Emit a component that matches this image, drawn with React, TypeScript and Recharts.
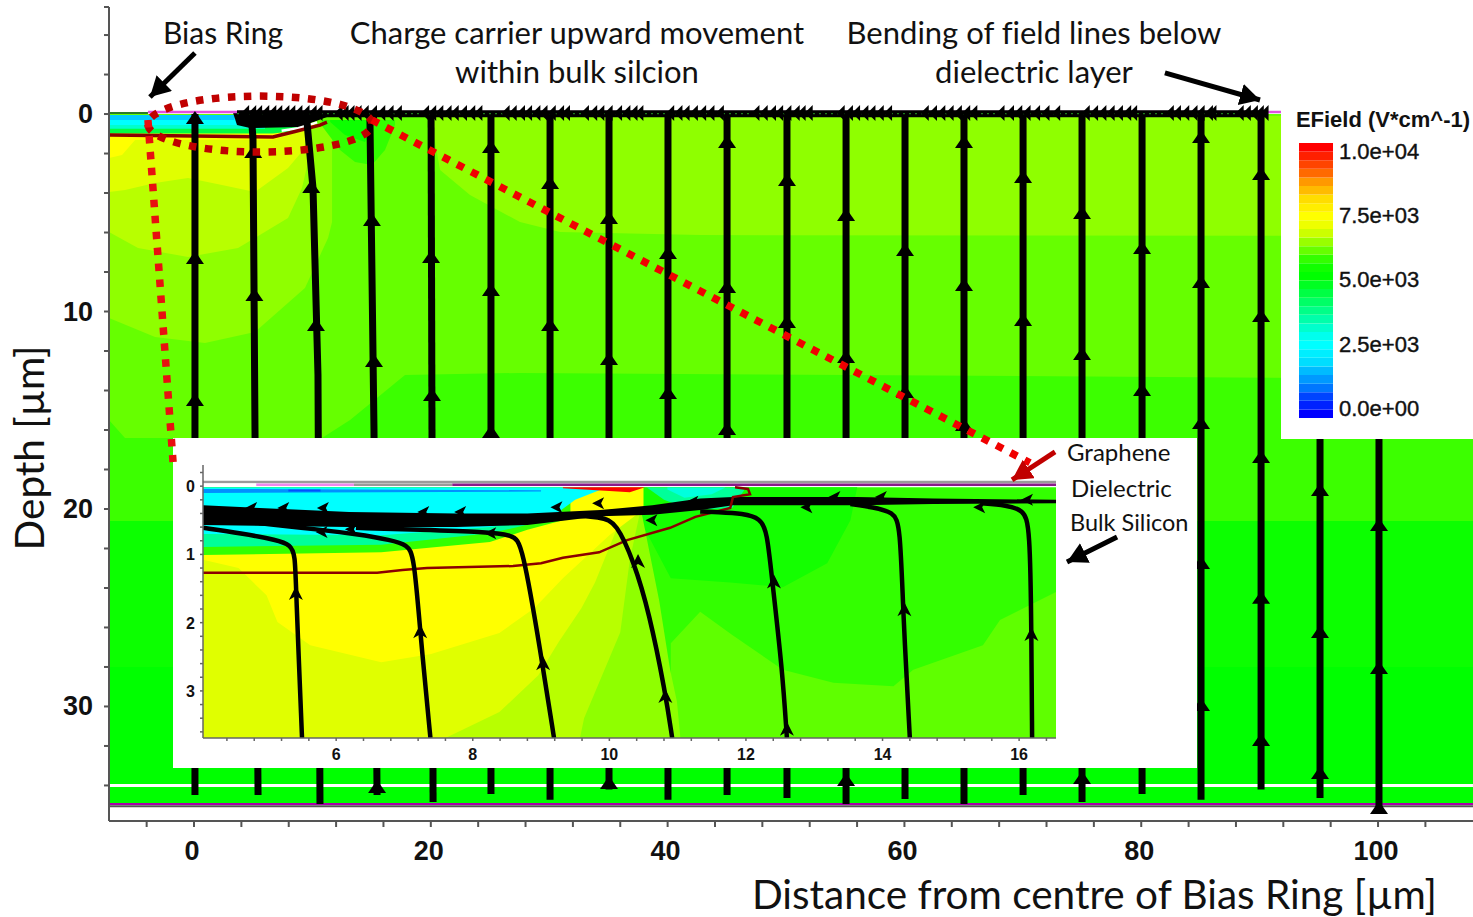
import {
  Area,
  ComposedChart,
  Label,
  Line,
  Scatter,
  XAxis,
  YAxis,
} from "recharts";

const SANS = "'Liberation Sans', Arial, sans-serif";
const LATO = "Lato, 'Open Sans', sans-serif";

// ---- main plot: distance (um) / depth (um) ----
const X_DOMAIN = [-7.18, 108.02];
const Y_DOMAIN = [-5.42, 35.8];
const X_TICKS = [-4, 0, 4, 8, 12, 16, 20, 24, 28, 32, 36, 40, 44, 48, 52, 56, 60, 64, 68, 72, 76, 80, 84, 88, 92, 96, 100, 104];
const Y_TICKS = [-5.42, -4, -2, 0, 2, 4, 6, 8, 10, 12, 14, 16, 18, 20, 22, 24, 26, 28, 30, 32, 34];

type Row = [number, number, number];
// contour regions, back to front: [colour, [x, top, bottom]...]
const FIELD_BANDS: [string, Row[]][] = [
  ["#00ff00", [[-7.18, 0, 34.95], [108.02, 0, 34.95]]],
  ["#0cff00", [[-7.18, 0, 28], [108.02, 0, 28]]],
  ["#3cff00", [[-7.18, 0, 20.61], [108.02, 0, 20.61]]],
  ["#66ff00", [[-7.18, 0, 15.49], [-5.83, 0, 16.41], [10.81, 0, 16.41], [13.18, 0, 15.49], [17.82, 0, 13.22], [27.53, 0, 13.11], [108.02, 0, 13.42]]],
  ["#8fff00", [[-7.18, 0.5, 10.33], [-3.29, 0.5, 11.29], [0.93, 0.5, 11.59], [5.15, 0.5, 11.04], [9.37, 0.5, 8.81], [11.32, 0.5, 6.28], [11.66, 0.5, 5.47]]],
  ["#8fff00", [[20.1, 0.1, 0.56], [20.78, 0.1, 2.84], [23.31, 0.1, 4.1], [27.53, 0.1, 5.47], [30.91, 0.1, 5.97], [42.74, 0.1, 6.13], [108.02, 0.1, 6.18]]],
  ["#b8ff00", [[-7.18, 0.5, 5.97], [-4.73, 0.5, 6.78], [-0.51, 0.5, 7.24], [3.72, 0.5, 6.78], [7.94, 0.5, 5.27], [9.12, 0.5, 3.75], [9.63, 0.5, 2.43]]],
  ["#e0ff00", [[-7.18, 0.5, 3.95], [-5.83, 0.5, 3.85], [-3.29, 0.5, 3.49], [-0.51, 0.5, 3.24], [2.36, 0.5, 3.59], [5.15, 0.5, 3.95], [7.94, 0.5, 2.73], [9.37, 0.5, 1.72]]],
  ["#ffff00", [[-7.18, 0.5, 2.23], [-6.08, 0.5, 2.08], [-4.98, 0.5, 1.32], [6.67, 0.5, 1.3], [8.36, 0.5, 1.0], [10.2, 0.5, 0.6]]],
  ["#33ff00", [[10.81, 0.3, 0.6], [12.33, 0.3, 1.82], [13.6, 0.3, 2.43], [15.03, 0.3, 2.58], [16.13, 0.3, 1.82], [16.98, 0.3, 0.56]]],
  ["#0cff00", [[11.5, 0.3, 0.4], [12.75, 0.3, 1.06], [14.44, 0.3, 1.42], [15.03, 0.3, 0.8]]],
  ["#00ff44", [[-7.18, 0.05, 0.98], [6.67, 0.05, 0.98], [7.94, 0.05, 0.9], [9.37, 0.05, 0.6]]],
  ["#00ffcc", [[-7.18, 0.05, 0.75], [6.0, 0.05, 0.75]]],
  ["#00ffff", [[-7.18, 0.05, 0.55], [4.31, 0.05, 0.55]]],
  ["#00ccff", [[-7.18, 0.05, 0.3], [3.4, 0.05, 0.3]]],
  ["#000000", [[3.3, -0.05, -0.05], [3.63, -0.05, 0.56], [4.73, -0.05, 0.71], [8.95, -0.05, 0.66], [11.23, -0.05, 0.15]]],
];

const DEPLETION_EDGE = [[-7.1, 1.06], [6.67, 1.16], [8.36, 0.91], [10.64, 0.56], [11.23, 0.41]];
const DEPLETION_HALO = [[7.4, 0.85], [8.8, 0.72], [10.4, 0.42]];

// field lines, bottom to top
const FIELD_LINES = [
  [[0.08, 34.48], [0.08, 0]],
  [[5.41, 34.48], [5.15, 16], [4.98, 1.22], [4.9, 0.6]],
  [[10.64, 34.94], [10.47, 13.22], [10.05, 3.75], [9.54, 0.4]],
  [[15.46, 34.48], [15.2, 16], [14.86, 0.3]],
  [[20.19, 34.84], [20.02, 0]],
  [[25.08, 34.43], [25.08, 0]],
  [[30.07, 34.73], [30.07, 0]],
  [[35.05, 34.2], [35.05, 0]],
  [[40.03, 34.73], [40.03, 0]],
  [[45.02, 34.48], [45.02, 0]],
  [[50.08, 34.63], [50.08, 0]],
  [[55.07, 34.94], [55.07, 0]],
  [[60.05, 34.68], [60.05, 0]],
  [[65.03, 34.94], [65.03, 0]],
  [[70.02, 34.48], [70.02, 0]],
  [[75.0, 34.84], [75.0, 0]],
  [[80.07, 34.43], [80.07, 0]],
  [[85.05, 34.73], [85.05, 0]],
  [[90.12, 34.2], [90.12, 0]],
  [[95.1, 34.63], [95.1, 0]],
  [[100.08, 35.1], [100.08, 0]],
];

const UP_ARROWS = [
  [0.08, 0.2], [0.08, 7.29], [0.08, 14.48],
  [5.0, 1.92], [5.1, 9.16],
  [9.9, 3.7], [10.3, 10.68],
  [15.03, 5.37], [15.2, 12.51], [15.46, 34.08],
  [20.02, 7.24], [20.1, 14.23],
  [25.08, 1.67], [25.08, 8.91], [25.08, 16.1],
  [30.07, 3.49], [30.07, 10.68],
  [35.05, 5.27], [35.05, 12.41], [35.05, 33.87],
  [40.03, 7.04], [40.03, 14.13],
  [45.02, 1.42], [45.02, 8.76], [45.02, 15.95],
  [50.08, 3.34], [50.08, 10.53],
  [55.07, 5.11], [55.07, 12.3], [55.07, 33.72],
  [60.05, 6.89], [60.05, 14.08],
  [65.03, 1.42], [65.03, 8.66], [65.03, 15.75],
  [70.02, 3.19], [70.02, 10.43],
  [75.0, 5.01], [75.0, 12.15], [75.0, 33.62],
  [80.07, 6.78], [80.07, 13.97],
  [85.05, 1.16], [85.05, 8.51], [85.05, 15.65], [85.05, 22.73], [85.05, 29.92],
  [90.12, 3.04], [90.12, 10.23], [90.12, 17.37], [90.12, 24.5], [90.12, 31.7],
  [95.1, 19.04], [95.1, 26.23], [95.1, 33.37],
  [100.08, 20.81], [100.08, 28.05], [100.08, 35.14],
];

// the jagged clusters of small arrows along the surface
const SURFACE_ARROWS_X = [
  4.4, 5.0, 5.5, 6.1, 6.7, 7.2, 7.8, 8.3, 8.9, 9.5, 10.1, 10.6,
  12.3, 12.8, 13.3, 13.9, 14.5, 15.2, 15.9, 16.6, 17.3,
  19.6, 20.2, 20.8, 21.5, 22.1, 22.8, 23.5, 24.1,
  26.4, 27.0, 27.7, 28.3, 29.0, 29.6, 30.3, 31.0, 31.5,
  33.1, 33.8, 34.4, 35.1, 35.9, 36.6, 37.2, 37.7,
  40.3, 41.0, 41.6, 42.3, 43.0, 43.7, 44.5,
  47.5, 48.2, 48.9, 49.5, 50.2, 50.9, 51.4, 52.0,
  54.7, 55.4, 56.0, 56.7, 57.3, 58.0, 58.7,
  61.8, 62.5, 63.2, 63.9, 64.6, 65.3, 65.9,
  68.2, 69.0, 69.7, 70.4, 71.2, 72.0, 72.9,
  75.4, 76.1, 76.8, 77.5, 78.2, 78.9, 79.4,
  82.5, 83.1, 83.8, 84.5, 85.1, 85.8, 86.1,
  88.4, 89.0, 89.6, 90.1, 90.5,
];

const ELLIPSE = [
  [5.57, -0.91], [8.95, -0.82], [12.33, -0.49], [14.44, 0.02], [15.03, 0.51], [14.44, 1.0], [12.33, 1.5], [8.95, 1.83],
  [5.57, 1.92], [2.2, 1.83], [-1.18, 1.5], [-3.29, 1.0], [-3.89, 0.51], [-3.29, 0.02], [-1.18, -0.49], [2.2, -0.82], [5.57, -0.91],
];
const ZOOM_GUIDE_RIGHT = [[15.03, 0.3], [70.6, 17.66]];
const ZOOM_GUIDE_LEFT = [[-3.89, 0.3], [-1.77, 17.62]];
const POINTER_ARROWS = [
  { color: "#000", pts: [[0.08, -3.09], [-3.72, -0.86]] },
  { color: "#000", pts: [[82.0, -2.08], [90.03, -0.71]] },
  { color: "#c00000", pts: [[72.72, 17.11], [69.09, 18.53]] },
  { color: "#000", pts: [[77.96, 21.42], [73.73, 22.68]] },
];

// ---- inset: zoomed view of the surface ----
const INSET_X_DOMAIN = [4.05, 16.54];
const INSET_Y_DOMAIN = [-0.31, 3.69];
const INSET_X_TICKS = [4.4, 4.8, 5.2, 5.6, 6, 6.4, 6.8, 7.2, 7.6, 8, 8.4, 8.8, 9.2, 9.6, 10, 10.4, 10.8, 11.2, 11.6, 12, 12.4, 12.8, 13.2, 13.6, 14, 14.4, 14.8, 15.2, 15.6, 16, 16.4];
const INSET_Y_TICKS = [-0.2, 0, 0.2, 0.4, 0.6, 0.8, 1, 1.2, 1.4, 1.6, 1.8, 2, 2.2, 2.4, 2.6, 2.8, 3, 3.2, 3.4, 3.6];

const INSET_BANDS: [string, Row[]][] = [
  ["#33ff00", [[4.05, 0.015, 3.69], [16.54, 0.015, 3.69]]],
  ["#5fff00", [[10.9, 2.3, 3.69], [11.33, 1.84, 3.69], [11.8, 2.18, 3.69], [12.54, 2.69, 3.69], [13.28, 2.88, 3.69], [14.16, 2.93, 3.69], [14.45, 2.69, 3.69], [15.47, 2.33, 3.69], [15.72, 1.96, 3.69], [16.54, 1.55, 3.69]]],
  ["#14ff00", [[10.45, 0.015, 0.5], [10.9, 0.015, 1.35], [11.77, 0.015, 1.41], [12.54, 0.015, 1.48], [13.19, 0.015, 1.13], [13.53, 0.015, 0.5], [13.63, 0.015, 0.015]]],
  ["#8fff00", [[4.05, 0.35, 3.69], [10.47, 0.38, 3.69], [10.73, 1.68, 3.69], [10.89, 2.69, 3.69], [10.99, 3.16, 3.69], [11.04, 3.69, 3.69]]],
  ["#b8ff00", [[4.05, 0.35, 3.69], [9.57, 0.35, 3.69], [9.63, 0.35, 3.4], [10.16, 0.35, 2.14], [10.3, 0.35, 1.08], [10.45, 0.35, 0.38]]],
  ["#e0ff00", [[4.05, 0.35, 3.69], [7.6, 0.35, 3.69], [8.39, 0.35, 3.31], [8.96, 0.35, 2.77], [9.26, 0.35, 2.28], [9.59, 0.35, 1.79], [9.79, 0.35, 1.41], [10.16, 0.35, 0.5]]],
  ["#ffff00", [[4.05, 0.35, 1.08], [4.57, 0.35, 1.2], [4.98, 0.35, 1.6], [5.14, 0.35, 1.99], [5.62, 0.35, 2.33], [6.66, 0.35, 2.58], [7.39, 0.35, 2.46], [8.39, 0.35, 2.15], [8.9, 0.35, 1.79], [9.32, 0.35, 1.35], [10.0, 0.35, 0.72], [10.45, 0.35, 0.38]]],
  ["#ffff00", [[9.3, 0.02, 0.42], [10.5, 0.02, 0.42]]],
  ["#33ff00", [[4.05, 0.02, 1.01], [6.66, 0.02, 0.97], [8.25, 0.02, 0.82], [8.8, 0.02, 0.64], [9.43, 0.02, 0.47]]],
  ["#00ff99", [[4.05, 0.02, 0.89], [6.66, 0.02, 0.86], [8.25, 0.02, 0.69], [8.96, 0.02, 0.53], [9.3, 0.02, 0.42]]],
  ["#00ffff", [[4.05, 0.02, 0.7], [6.66, 0.02, 0.72], [8.25, 0.02, 0.6], [9.13, 0.02, 0.47], [9.5, 0.02, 0.2], [9.9, 0.02, 0.04]]],
  ["#00ff99", [[10.55, 0.02, 0.02], [10.8, 0.02, 0.2], [11.2, 0.02, 0.35], [11.8, 0.02, 0.32], [12.0, 0.02, 0.02]]],
  ["#00ffdd", [[10.85, 0.02, 0.05], [11.1, 0.02, 0.17], [11.5, 0.02, 0.12], [11.7, 0.02, 0.02]]],
  ["#0090ff", [[4.05, 0.04, 0.1], [9.0, 0.06, 0.08]]],
  ["#0050ff", [[5.3, 0.05, 0.08], [5.77, 0.05, 0.08]]],
  ["#ff0000", [[9.32, 0.015, 0.03], [10.0, 0.015, 0.07], [10.3, 0.015, 0.09], [10.52, 0.015, 0.015]]],
];
const INSET_CHARGE_BAND: Row[] = [
  [4.05, 0.28, 0.57], [6.19, 0.38, 0.6], [7.76, 0.4, 0.6], [8.8, 0.4, 0.57], [9.87, 0.35, 0.44], [10.63, 0.28, 0.42],
  [11.33, 0.18, 0.35], [11.81, 0.16, 0.28], [13.63, 0.16, 0.28], [14.74, 0.18, 0.26], [16.54, 0.2, 0.25],
];
const INSET_EDGE = [
  [4.05, 1.27], [6.6, 1.27], [6.97, 1.23], [7.33, 1.2], [8.59, 1.17], [9.0, 1.13], [9.32, 1.05], [9.85, 0.97], [10.26, 0.79],
  [10.89, 0.61], [11.26, 0.45], [11.77, 0.32], [11.81, 0.16], [12.06, 0.12], [12.03, 0.04], [11.84, 0.015],
];
const INSET_STRIPES = [
  { color: "#9a9a9a", pts: [[4.05, -0.06], [16.54, -0.06]] },
  { color: "#ffffff", pts: [[4.05, -0.02], [4.83, -0.02]] },
  { color: "#ee88ee", pts: [[4.83, -0.02], [6.26, -0.02]] },
  { color: "#999999", pts: [[6.26, -0.02], [7.7, -0.02]] },
  { color: "#8a1a8a", pts: [[7.7, -0.02], [16.54, -0.02]] },
];
const INSET_LINES = [
  [[5.5, 3.69], [5.41, 1.49], [5.4, 1.01], [5.33, 0.86], [5.14, 0.79], [4.61, 0.69], [4.05, 0.61]],
  [[7.38, 3.69], [7.23, 2.14], [7.14, 1.01], [7.04, 0.86], [6.81, 0.79], [6.29, 0.7], [5.77, 0.64], [4.87, 0.54]],
  [[9.19, 3.69], [9.0, 2.47], [8.72, 0.82], [8.59, 0.72], [8.17, 0.67], [7.23, 0.64], [6.29, 0.61]],
  [[10.92, 3.69], [10.82, 3.02], [10.58, 1.84], [10.36, 1.11], [10.1, 0.53], [9.89, 0.45], [9.32, 0.42], [8.8, 0.5]],
  [[12.6, 3.69], [12.53, 2.66], [12.38, 1.35], [12.31, 0.67], [12.21, 0.47], [11.96, 0.4], [11.58, 0.38], [11.33, 0.37]],
  [[14.4, 3.69], [14.3, 1.84], [14.26, 0.57], [14.16, 0.38], [13.86, 0.31], [13.53, 0.26]],
  [[16.19, 3.69], [16.18, 2.18], [16.16, 0.57], [16.06, 0.35], [15.82, 0.28], [15.43, 0.25]],
];
const INSET_UP_ARROWS = [
  [5.41, 1.58], [7.23, 2.14], [9.03, 2.61], [10.42, 1.11], [10.82, 3.09], [12.41, 1.41], [12.6, 3.57], [14.32, 1.82], [16.18, 2.18],
];
const INSET_LEFT_ARROWS = [
  [5.8, 0.67], [6.23, 0.63], [8.27, 0.69], [10.63, 0.5], [12.9, 0.31], [15.43, 0.31], [13.31, 0.16], [13.99, 0.16], [16.13, 0.2],
  [4.77, 0.32], [5.24, 0.32], [5.82, 0.32], [7.29, 0.38], [7.83, 0.38], [9.24, 0.31], [9.85, 0.25], [11.23, 0.23],
];

// ---- colour bar ----
const LEGEND_TICKS = [0, 2500, 5000, 7500, 10000];
const LEGEND_LABELS = ["0.0e+00", "2.5e+03", "5.0e+03", "7.5e+03", "1.0e+04"];
const LEGEND_EDGES = [-390, -56, 279, 613, 947, 1282, 1616, 1951, 2285, 2619, 2954, 3288, 3623, 3957, 4291, 4626, 4960, 5295, 5629, 5963, 6298, 6632, 6967, 7301, 7635, 7970, 8304, 8639, 8973, 9307, 9642, 9976, 10311];
const LEGEND_COLORS = [
  "#0000ff", "#0022ff", "#0044ff", "#0077ff", "#0099ff", "#00bbff", "#00ddff", "#00eeff",
  "#00ffff", "#00ffee", "#00ffcc", "#00ffaa", "#00ff88", "#00ff66", "#00ff44", "#00ff22",
  "#00ff00", "#11ff00", "#33ff00", "#66ff00", "#99ff00", "#ccff00", "#eeff00", "#ffff00",
  "#ffee00", "#ffdd00", "#ffbb00", "#ff9900", "#ff6a00", "#ff4400", "#ff2000", "#ff0000",
];

const toPts = (pts: number[][]) => pts.map(([x, y]) => ({ x, y }));
const toRows = (rows: Row[]) => rows.map(([x, top, bottom]) => ({ x, range: [top, bottom] }));

const bandArea = (color: string, rows: Row[], key: string) => (
  <Area
    key={key}
    data={toRows(rows)}
    dataKey="range"
    type="linear"
    stroke="none"
    fill={color}
    fillOpacity={1}
    dot={false}
    activeDot={false}
    isAnimationActive={false}
  />
);

const path = (pts: number[][], color: string, width: number, key: string, extra: any = {}) => (
  <Line
    key={key}
    data={toPts(pts)}
    dataKey="y"
    type="linear"
    stroke={color}
    strokeWidth={width}
    dot={false}
    activeDot={false}
    isAnimationActive={false}
    {...extra}
  />
);

const UpArrow = ({ cx, cy }: any) => <path d={`M${cx},${cy - 7}L${cx + 9},${cy + 6}L${cx - 9},${cy + 6}Z`} fill="#000" />;
const SurfaceArrow = ({ cx, cy }: any) => <path d={`M${cx - 5},${cy}L${cx + 3},${cy - 8}L${cx + 3},${cy + 8}Z`} fill="#000" />;
const InsetUpArrow = ({ cx, cy }: any) => <path d={`M${cx},${cy - 8}L${cx + 7},${cy + 6}L${cx},${cy + 2}L${cx - 7},${cy + 6}Z`} fill="#000" />;
const InsetLeftArrow = ({ cx, cy }: any) => <path d={`M${cx - 7},${cy}L${cx + 5},${cy - 6}L${cx + 2},${cy}L${cx + 5},${cy + 6}Z`} fill="#000" />;

const MainXTick = ({ x, y, payload }: any) =>
  payload.value % 20 === 0 ? (
    <text x={x - 2} y={y + 31} textAnchor="middle" fontFamily={SANS} fontWeight="bold" fontSize={27} fill="#111">
      {payload.value}
    </text>
  ) : null;
const MainYTick = ({ x, y, payload }: any) =>
  payload.value % 10 === 0 ? (
    <text x={x - 9} y={y + 9} textAnchor="end" fontFamily={SANS} fontWeight="bold" fontSize={27} fill="#111">
      {payload.value}
    </text>
  ) : null;
const InsetXTick = ({ x, y, payload }: any) =>
  payload.value % 2 === 0 ? (
    <text x={x} y={y + 17} textAnchor="middle" fontFamily={SANS} fontWeight="bold" fontSize={16} fill="#111">
      {payload.value}
    </text>
  ) : null;
const InsetYTick = ({ x, y, payload }: any) =>
  Number.isInteger(payload.value) ? (
    <text x={x - 3} y={y + 6} textAnchor="end" fontFamily={SANS} fontWeight="bold" fontSize={16} fill="#111">
      {payload.value}
    </text>
  ) : null;

function Note({ x, y, size = 31, anchor = "middle", children, font = LATO, weight = 400 }: any) {
  const tx = anchor === "middle" ? "-50%" : "0";
  return (
    <div
      style={{
        position: "absolute",
        left: x,
        top: y,
        transform: `translate(${tx}, -50%)`,
        fontFamily: font,
        fontSize: size,
        fontWeight: weight,
        fontVariantLigatures: "none",
        color: "#111",
        whiteSpace: "nowrap",
        lineHeight: 1,
      }}
    >
      {children}
    </div>
  );
}

export default function App() {
  return (
    <div style={{ position: "absolute", left: 0, top: 0, width: 1473, height: 917, overflow: "hidden", background: "#fff" }}>
      {/* main plot */}
      <div style={{ position: "absolute", left: 0, top: 0 }}>
        <ComposedChart width={1473} height={917} margin={{ top: 7, right: 0, bottom: 0, left: 0 }}>
          <XAxis
            type="number"
            dataKey="x"
            domain={X_DOMAIN}
            ticks={X_TICKS}
            interval={0}
            allowDataOverflow
            height={96}
            tickSize={6}
            tick={MainXTick}
            stroke="#555"
            strokeWidth={2}
          >
            <Label
              value="Distance from centre of Bias Ring [µm]"
              position="insideBottomRight"
              offset={36}
              dy={28}
              style={{ fontFamily: LATO, fontSize: 40.5, fill: "#111" }}
            />
          </XAxis>
          <YAxis
            type="number"
            dataKey="y"
            reversed
            domain={Y_DOMAIN}
            ticks={Y_TICKS}
            interval={0}
            allowDataOverflow
            width={109}
            tickSize={5}
            tick={MainYTick}
            stroke="#555"
            strokeWidth={2}
          >
            <Label
              value="Depth [µm]"
              angle={-90}
              position="insideLeft"
              offset={30}
              dy={34}
              style={{ fontFamily: LATO, fontSize: 40.5, fill: "#111", textAnchor: "middle" }}
            />
          </YAxis>
          {FIELD_BANDS.map(([color, rows], i) => bandArea(color, rows, `band-${i}`))}
          {path(DEPLETION_HALO, "#fff", 2.5, "halo")}
          {path(DEPLETION_EDGE, "#8b0000", 3.5, "edge")}
          {path([[-7.18, 34], [108.02, 34]], "#fff", 3, "white-rule")}
          {path([[-7.18, 35.05], [108.02, 35.05]], "#555", 2, "grey-rule")}
          {path([[-7.18, 34.94], [108.02, 34.94]], "#aa00aa", 2, "purple-rule")}
          {path([[-7.18, -0.05], [-3.89, -0.05]], "#2a7a2a", 2, "surface-green")}
          {path([[-3.89, -0.1], [91.81, -0.1]], "#e050e0", 2.5, "surface-pink")}
          {FIELD_LINES.map((pts, i) => path(pts, "#000", 7, `line-${i}`))}
          {path([[3.63, -0.02], [90.46, -0.02]], "#000", 7, "surface-black")}
          <Scatter data={toPts(UP_ARROWS)} shape={UpArrow} isAnimationActive={false} />
          <Scatter data={SURFACE_ARROWS_X.map((x) => ({ x, y: -0.05 }))} shape={SurfaceArrow} isAnimationActive={false} />
          {path([[3.63, -0.02], [90.46, -0.02]], "#1f7a1f", 1.2, "surface-dots", { strokeDasharray: "2 4" })}
        </ComposedChart>
      </div>

      {/* inset */}
      <div style={{ position: "absolute", left: 173, top: 438, width: 1024, height: 330, background: "#fff" }}>
        <ComposedChart width={1024} height={330} margin={{ top: 27, right: 141, bottom: 0, left: 0 }}>
          <XAxis
            type="number"
            dataKey="x"
            domain={INSET_X_DOMAIN}
            ticks={INSET_X_TICKS}
            interval={0}
            allowDataOverflow
            height={30}
            tickSize={3}
            tick={InsetXTick}
            stroke="#666"
            strokeWidth={1.5}
          />
          <YAxis
            type="number"
            dataKey="y"
            reversed
            domain={INSET_Y_DOMAIN}
            ticks={INSET_Y_TICKS}
            interval={0}
            allowDataOverflow
            width={30}
            tickSize={3}
            tick={InsetYTick}
            stroke="#666"
            strokeWidth={1.5}
          />
          {INSET_BANDS.map(([color, rows], i) => bandArea(color, rows, `inset-band-${i}`))}
          {path(INSET_EDGE, "#8b0000", 2.5, "inset-edge")}
          {INSET_STRIPES.map((s, i) => path(s.pts, s.color, 2.5, `stripe-${i}`))}
          {bandArea("#000", INSET_CHARGE_BAND, "inset-charge")}
          {INSET_LINES.map((pts, i) => path(pts, "#000", 4.5, `inset-line-${i}`, { type: "basis" }))}
          <Scatter data={toPts(INSET_UP_ARROWS)} shape={InsetUpArrow} isAnimationActive={false} />
          <Scatter data={toPts(INSET_LEFT_ARROWS)} shape={InsetLeftArrow} isAnimationActive={false} />
        </ComposedChart>
      </div>

      {/* colour bar */}
      <div style={{ position: "absolute", left: 1281, top: 107, width: 192, height: 332, background: "#fff" }}>
        <ComposedChart width={192} height={332} margin={{ top: 36, right: 0, bottom: 21, left: 18 }}>
          <XAxis type="number" dataKey="x" domain={[0, 1]} allowDataOverflow hide />
          <YAxis
            type="number"
            orientation="right"
            domain={[LEGEND_EDGES[0], LEGEND_EDGES[LEGEND_EDGES.length - 1]]}
            ticks={LEGEND_TICKS}
            interval={0}
            allowDataOverflow
            width={140}
            axisLine={false}
            tickLine={false}
            tickMargin={0}
            tickFormatter={(v: number) => LEGEND_LABELS[LEGEND_TICKS.indexOf(v)]}
            tick={{ fontFamily: SANS, fontSize: 22, fill: "#111", stroke: "#111", strokeWidth: 0.4, textAnchor: "start" }}
          />
          {LEGEND_COLORS.map((color, i) =>
            bandArea(color, [[0, LEGEND_EDGES[i], LEGEND_EDGES[i + 1]], [1, LEGEND_EDGES[i], LEGEND_EDGES[i + 1]]], `legend-${i}`),
          )}
        </ComposedChart>
      </div>

      {/* dotted zoom guides and pointers, above the inset */}
      <div style={{ position: "absolute", left: 0, top: 0, pointerEvents: "none" }}>
        <ComposedChart width={1473} height={917} margin={{ top: 7, right: 0, bottom: 96, left: 109 }}>
          <defs>
            <marker id="headBlack" markerUnits="userSpaceOnUse" markerWidth="26" markerHeight="26" refX="20" refY="11" orient="auto">
              <path d="M0,0L20,11L0,22Z" fill="#000" />
            </marker>
            <marker id="headRed" markerUnits="userSpaceOnUse" markerWidth="26" markerHeight="26" refX="20" refY="11" orient="auto">
              <path d="M0,0L20,11L0,22Z" fill="#c00000" />
            </marker>
          </defs>
          <XAxis type="number" dataKey="x" domain={X_DOMAIN} allowDataOverflow hide />
          <YAxis type="number" reversed domain={Y_DOMAIN} allowDataOverflow hide />
          {path(ELLIPSE, "#c00000", 7.5, "ellipse", { type: "natural", strokeDasharray: "7.5 8.5" })}
          {path(ZOOM_GUIDE_RIGHT, "#f00000", 7.5, "guide-right", { strokeDasharray: "7.5 8.5" })}
          {path(ZOOM_GUIDE_LEFT, "#e81010", 7.5, "guide-left", { strokeDasharray: "7.5 8.5" })}
          {POINTER_ARROWS.map((a, i) =>
            path(a.pts, a.color, 5, `pointer-${i}`, { markerEnd: a.color === "#000" ? "url(#headBlack)" : "url(#headRed)" }),
          )}
        </ComposedChart>
      </div>

      <Note x={223} y={32} size={30}>Bias Ring</Note>
      <Note x={577} y={32}>Charge carrier upward movement</Note>
      <Note x={577} y={71}>within bulk silcion</Note>
      <Note x={1034} y={32}>Bending of field lines below</Note>
      <Note x={1034} y={71}>dielectric layer</Note>
      <Note x={1067} y={452} size={24} anchor="start">Graphene</Note>
      <Note x={1071} y={488} size={24} anchor="start">Dielectric</Note>
      <Note x={1070} y={523} size={23.5} anchor="start">Bulk Silicon</Note>
      <Note x={1383} y={120} size={22} font={SANS} weight={700}>EField (V*cm^-1)</Note>
    </div>
  );
}
